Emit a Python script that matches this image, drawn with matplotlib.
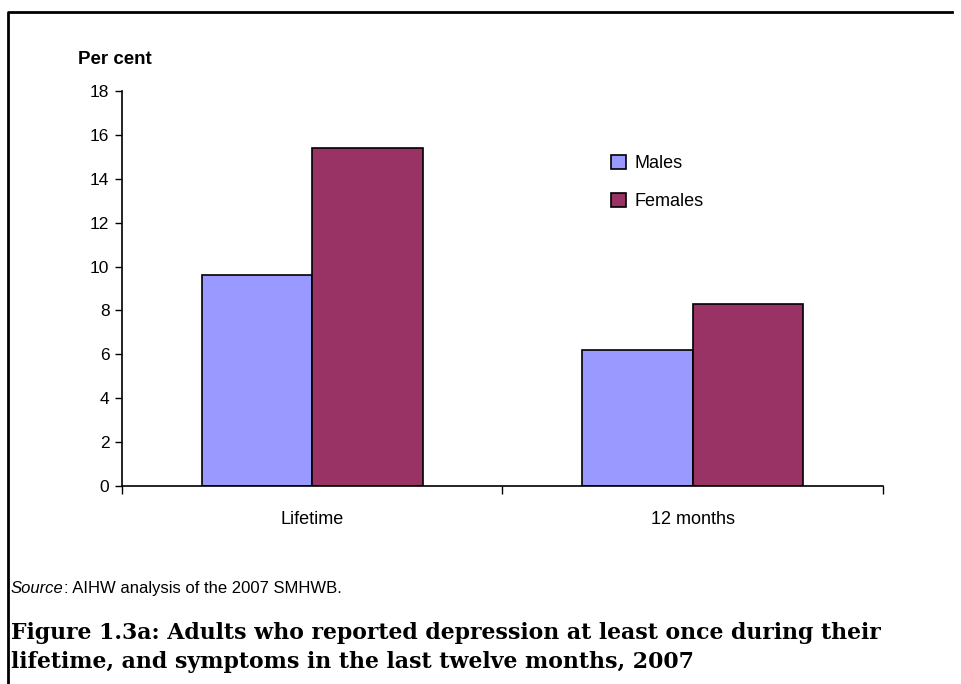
import numpy as np
import matplotlib.pyplot as plt
from matplotlib.lines import Line2D

categories = ['Lifetime', '12 months']
males = [9.6, 6.2]
females = [15.4, 8.3]
series_names = ['Males', 'Females']
y_ticks = [0, 2, 4, 6, 8, 10, 12, 14, 16, 18]
title_lines = ['Figure 1.3a: Adults who reported depression at least once during their',
               'lifetime, and symptoms in the last twelve months, 2007']

male_color = '#9999FF'
female_color = '#993366'

W, H = 962, 684
fig = plt.figure(figsize=(W / 100, H / 100), dpi=100)
plt.rcParams['font.family'] = ['Liberation Sans', 'DejaVu Sans']

# axes box in pixel coordinates of the reference
left, right, top, bottom = 122, 883, 91, 486
ax = fig.add_axes([left / W, 1 - bottom / H, (right - left) / W, (bottom - top) / H])

x = np.arange(len(categories))
bw = 0.29
ax.bar(x - bw / 2, males, bw, color=male_color, edgecolor='black', linewidth=1.2, label=series_names[0])
ax.bar(x + bw / 2, females, bw, color=female_color, edgecolor='black', linewidth=1.2, label=series_names[1])

ax.set_xlim(-0.5, len(categories) - 0.5)
ax.set_ylim(0, 18)
ax.set_yticks(y_ticks)
ax.set_yticklabels([str(t) for t in y_ticks], fontsize=12.5)
ax.tick_params(axis='y', direction='out', length=5, width=1, pad=4)

# category labels between boundary ticks
ax.set_xticks(np.arange(len(categories) + 1) - 0.5)
ax.set_xticklabels([])
ax.set_xticks(x, minor=True)
ax.set_xticklabels(categories, minor=True, fontsize=13)
ax.tick_params(axis='x', which='major', direction='out', length=6, width=1)
ax.tick_params(axis='x', which='minor', length=0, pad=18)

for s in ['top', 'right']:
    ax.spines[s].set_visible(False)
for s in ['left', 'bottom']:
    ax.spines[s].set_linewidth(1.2)

ax.legend(loc='upper left', bbox_to_anchor=((604 - left) / (right - left), (bottom - 148) / (bottom - top)),
          frameon=False, fontsize=13, handlelength=0.8, handleheight=0.8,
          handletextpad=0.5, labelspacing=1.15, borderaxespad=0)

fig.text(78 / W, 1 - 60 / H, 'Per cent', fontsize=13.5, fontweight='bold', va='center', ha='left')

# source line: italic word then plain text right after it
src1 = fig.text(11 / W, 1 - 593 / H, 'Source', fontsize=12, style='italic', va='baseline', ha='left')
fig.canvas.draw()
bb = src1.get_window_extent()
fig.text(bb.x1 / W, 1 - 593 / H, ': AIHW analysis of the 2007 SMHWB.', fontsize=12,
         va='baseline', ha='left')

for i, line in enumerate(title_lines):
    fig.text(11 / W, 1 - (639 + 29 * i) / H, line, fontsize=15.8, fontweight='bold',
             family=['DejaVu Serif'], va='baseline', ha='left')

# frame: left and top lines only
fig.add_artist(Line2D([8 / W, 8 / W, 952 / W], [0, 1 - 12 / H, 1 - 12 / H],
                      transform=fig.transFigure, color='black', linewidth=2))

fig.savefig('out.png', dpi=100, facecolor='white')
